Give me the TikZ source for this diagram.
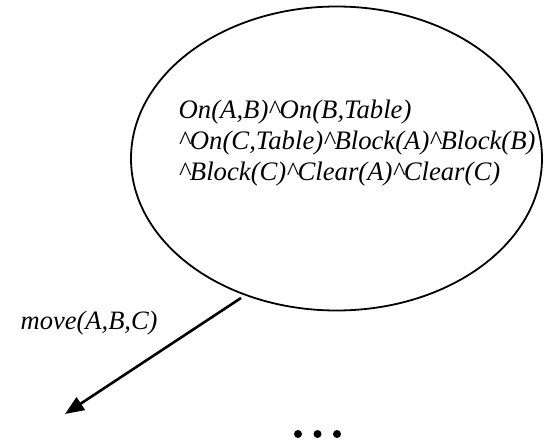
\documentclass[tikz,border=0pt]{standalone}
\usepackage{fontspec}
\setmainfont{Liberation Serif}
\usetikzlibrary{arrows.meta,shapes.geometric}
\begin{document}
\begin{tikzpicture}[x=1pt,y=1pt,
  statebox/.style={draw, line width=1.8pt, ellipse, minimum width=411pt, minimum height=304pt, inner sep=0pt},
  facts/.style={font=\fontsize{26.7}{31}\selectfont\itshape, align=left, inner sep=0pt, anchor=west},
  actlabel/.style={font=\fontsize{26.5}{31}\selectfont\itshape, inner sep=0pt, anchor=west},
  actarrow/.style={line width=2.6pt, -{Triangle[length=19pt,width=15pt]}},
  dotmark/.style={fill=black}]
\useasboundingbox (0,0) rectangle (552,440);
% initial state
\node[statebox] (state) at (336.5,281.5) {};
\node[facts] (desc) at (178.5,297) {On(A,B)\^{}On(B,Table)\\\^{}On(C,Table)\^{}Block(A)\^{}Block(B)\\\^{}Block(C)\^{}Clear(A)\^{}Clear(C)};
% action leading to the next state
\coordinate (from) at (241,142);
\coordinate (to) at (65,26);
\draw[actarrow] (from) -- (to);
\node[actlabel] (act) at (20.5,117) {move(A,B,C)};
% further states omitted
\foreach \x in {298,317.5,337} \fill[dotmark] (\x,6) circle (4);
\end{tikzpicture}
\end{document}
